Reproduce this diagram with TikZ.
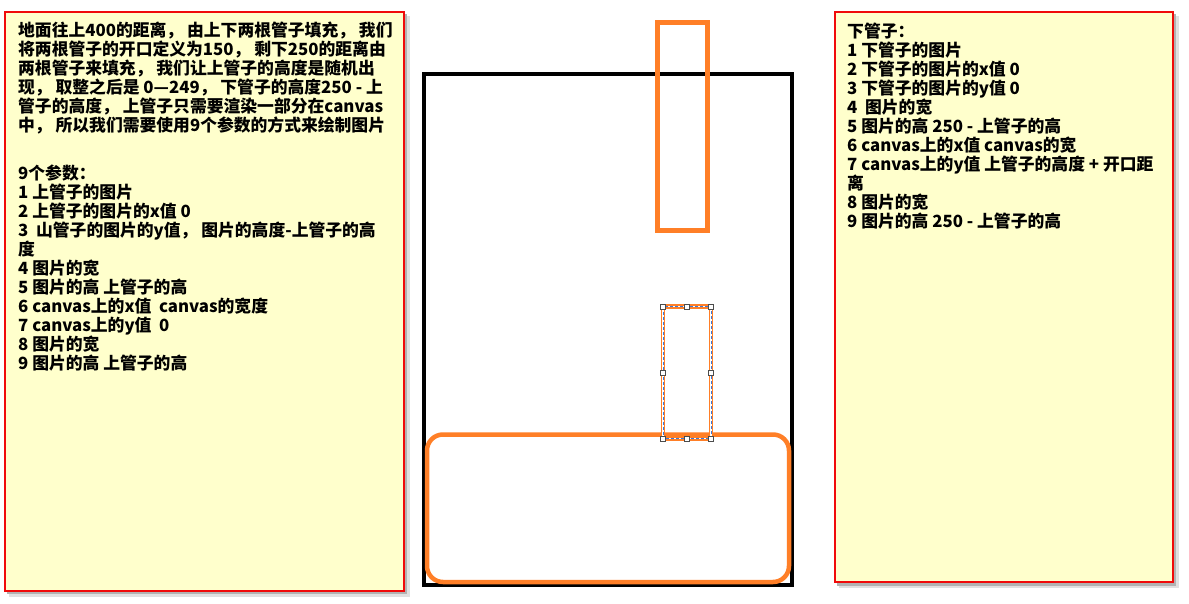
\documentclass[tikz,border=0pt]{standalone}
\usepackage{fontspec}
\newfontfamily\cjk{Noto Sans CJK SC}
\definecolor{boxfill}{RGB}{255,255,204}
\definecolor{boxred}{RGB}{240,10,10}
\definecolor{pipe}{RGB}{255,127,39}
\definecolor{selblue}{RGB}{60,120,215}
\begin{document}
\begin{tikzpicture}[x=1pt,y=-1pt,
  note/.style={draw=boxred, line width=2pt, fill=boxfill},
  shadowA/.style={fill=black!12},
  shadowB/.style={fill=black!30},
  txt/.style={font=\cjk\bfseries\fontsize{16.8}{19}\selectfont, align=left, inner sep=0pt, anchor=north west},
  pipebox/.style={draw=pipe, line width=5pt},
  handle/.style={draw=black!70, fill=white, line width=0.8pt, minimum size=5pt, inner sep=0pt}]
\useasboundingbox (0,0) rectangle (1189,604);
\fill[white] (0,0) rectangle (1189,604);
% left note
\fill[shadowA] (9,16) rectangle (410,597);
\fill[shadowB] (7,14) rectangle (407,594);
\draw[note] (5,12) rectangle (404,591);
% right note
\fill[shadowA] (839,16) rectangle (1179,588);
\fill[shadowB] (837,14) rectangle (1176,586);
\draw[note] (835,12) rectangle (1173,582);
% canvas
\draw[line width=3.5pt] (424,74) rectangle (792,585);
% pipes
\draw[pipebox, line width=4.5pt, rounded corners=16pt] (427,434.5) rectangle (789,582);
\draw[pipebox] (657.5,22.5) rectangle (707.5,230.5);
\draw[pipebox, line width=4.5pt] (663,306.5) rectangle (711,438.5);
\draw[white, line width=1.5pt] (663,306.5) rectangle (711,438.5);
\draw[selblue, line width=0.9pt, dash pattern=on 3pt off 2pt] (663,306.5) rectangle (711,438.5);
\foreach \hx/\hy [count=\i] in {663/306.5,687/306.5,711/306.5,663/372.5,711/372.5,663/438.5,687/438.5,711/438.5}
  \node[handle] (h\i) at (\hx,\hy) {};
% texts
\node[txt] (lefttext) at (18,22) {地面往上400的距离， 由上下两根管子填充， 我们\\
将两根管子的开口定义为150， 剩下250的距离由\\
两根管子来填充， 我们让上管子的高度是随机出\\
现， 取整之后是 0—249， 下管子的高度250 - 上\\
管子的高度， 上管子只需要渲染一部分在canvas\\
中， 所以我们需要使用9个参数的方式来绘制图片\\[29pt]
9个参数：\\
1 上管子的图片\\
2 上管子的图片的x值 0\\
3 \ 山管子的图片的y值， 图片的高度-上管子的高\\
度\\
4 图片的宽\\
5 图片的高 上管子的高\\
6 canvas上的x值 \ canvas的宽度\\
7 canvas上的y值 \ 0\\
8 图片的宽\\
9 图片的高 上管子的高};
\node[txt] (righttext) at (847,23) {下管子：\\
1 下管子的图片\\
2 下管子的图片的x值 0\\
3 下管子的图片的y值 0\\
4 \ 图片的宽\\
5 图片的高 250 - 上管子的高\\
6 canvas上的x值 canvas的宽\\
7 canvas上的y值 上管子的高度 + 开口距\\
离\\
8 图片的宽\\
9 图片的高 250 - 上管子的高};
\end{tikzpicture}
\end{document}
